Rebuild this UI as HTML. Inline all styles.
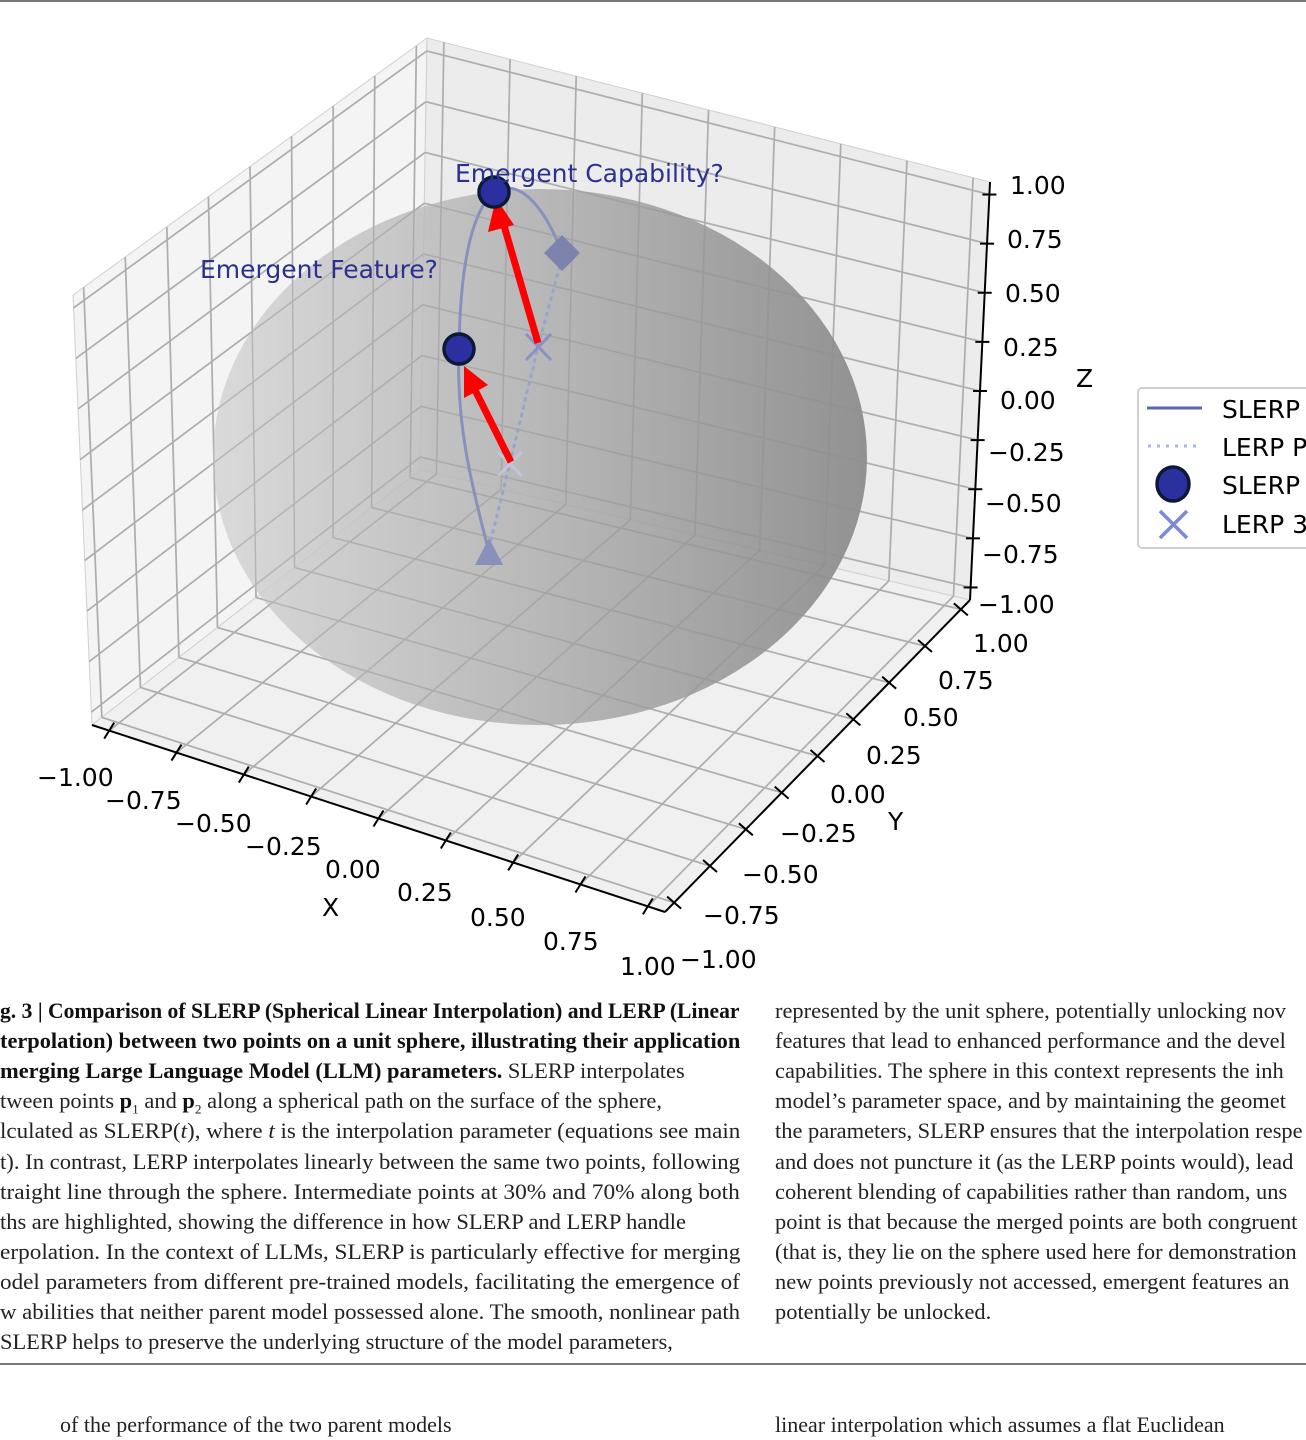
<!DOCTYPE html>
<html><head><meta charset="utf-8">
<style>
html,body{margin:0;padding:0;background:#fff;}
body{width:1306px;height:1422px;position:relative;overflow:hidden;}
svg{position:absolute;left:0;top:0;}
.t{font-family:"DejaVu Sans","Liberation Sans",sans-serif;font-size:25px;fill:#000;}
.cap{position:absolute;font-family:"Liberation Serif",serif;font-size:22px;color:#222;white-space:nowrap;transform-origin:0 0;line-height:30px;}
.cap b{color:#111;}
.hr{position:absolute;left:0;width:1306px;height:2px;background:#777;}
</style></head><body>
<div class="hr" style="top:0"></div>
<svg id="s" width="1306" height="990" viewBox="0 0 1306 990">
<defs>
<linearGradient id="sg" x1="0" y1="0" x2="1" y2="0">
<stop offset="0" stop-color="#d4d4d4"/><stop offset="0.5" stop-color="#acacac"/><stop offset="1" stop-color="#7e7e7e"/>
</linearGradient>
</defs>
<g id="panes"></g>
<g id="grid" stroke="#bdbdbd" stroke-width="1.8" fill="none"></g>
<ellipse cx="540" cy="457" rx="327" ry="268" fill="url(#sg)" opacity="0.82"/>
<g id="grid2" stroke="#9a9a9a" stroke-width="1.4" fill="none" opacity="0.45"></g>
<path d="M489,548 L510,463 L538,347 L562,258" stroke="#9aa3d0" stroke-width="3" stroke-dasharray="2,6" stroke-linecap="round" fill="none"/>
<path d="M489,552 C470,480 456,420 459,349 C460,280 468,215 494,192 C522,175 548,215 562,253" stroke="#8990bb" stroke-width="3" fill="none"/>
<polygon points="489,538 503,565 475,565" fill="#8990bb"/>
<polygon points="562,235 580,253 562,271 544,253" fill="#7c84ad"/>
<g stroke="#8990c8" stroke-width="3"><line x1="526" y1="334" x2="551" y2="360"/><line x1="551" y1="334" x2="526" y2="360"/></g>
<g stroke="#c0c4dc" stroke-width="3"><line x1="498" y1="452" x2="522" y2="476"/><line x1="522" y1="452" x2="498" y2="476"/></g>
<line x1="538" y1="343" x2="503" y2="222" stroke="#ff0000" stroke-width="7"/>
<polygon points="496,198 488,232 514,225" fill="#ff0000"/>
<line x1="511" y1="462" x2="474" y2="388" stroke="#ff0000" stroke-width="7"/>
<polygon points="464,366 464,398 488,385" fill="#ff0000"/>
<circle cx="494" cy="192" r="15" fill="#2b30a0" stroke="#0c1a38" stroke-width="3.5"/>
<circle cx="459" cy="349" r="15" fill="#2b30a0" stroke="#0c1a38" stroke-width="3.5"/>
<text x="455" y="182" class="t" style="fill:#2b318f">Emergent Capability?</text>
<text x="200" y="278" class="t" style="fill:#2b318f">Emergent Feature?</text>
<g id="axes" stroke="#000" stroke-width="2"></g>
<g id="labels"></g>
<rect x="1138" y="388" width="200" height="160" rx="4" fill="#fff" stroke="#d0d0d0" stroke-width="2"/>
<line x1="1147" y1="408" x2="1202" y2="408" stroke="#5a65b8" stroke-width="3"/>
<line x1="1148" y1="446" x2="1200" y2="446" stroke="#a6b6e6" stroke-width="3" stroke-dasharray="3,6"/>
<ellipse cx="1173" cy="484" rx="16" ry="17" fill="#2b30a0" stroke="#0c1a38" stroke-width="3.5"/>
<g stroke="#7b8bd0" stroke-width="3.5"><line x1="1160" y1="511" x2="1187" y2="538"/><line x1="1187" y1="511" x2="1160" y2="538"/></g>
<text x="1222" y="418" class="t">SLERP</text>
<text x="1222" y="456" class="t">LERP P</text>
<text x="1222" y="494" class="t">SLERP</text>
<text x="1222" y="533" class="t">LERP 3</text>
</svg>

<div class="hr" style="top:1363px"></div>
<div class="cap" style="left:60px;top:1410px">of the performance of the two parent models</div>
<div class="cap" style="left:775px;top:1410px">linear interpolation which assumes a flat Euclidean</div>

<script>
var NS="http://www.w3.org/2000/svg";
function el(p,n,a,t){var e=document.createElementNS(NS,n);for(var k in a)e.setAttribute(k,a[k]);if(t)e.textContent=t;p.appendChild(e);return e;}
function L(a,b,t){return [a[0]+(b[0]-a[0])*t,a[1]+(b[1]-a[1])*t];}
function Q(A,B,C,D,u,v){return L(L(A,B,u),L(D,C,u),v);}
var panes=[
 {A:[92,725],B:[420,470],C:[427,38],D:[73,295],f:"#f4f4f4"},
 {A:[420,470],B:[970,600],C:[990,182],D:[427,38],f:"#ececec"},
 {A:[92,725],B:[665,912],C:[970,600],D:[420,470],f:"#f0f0f0"}];
var pg=document.getElementById("panes"),g=document.getElementById("grid"),g2=document.getElementById("grid2");
panes.forEach(function(p){
 el(pg,"polygon",{points:[p.A,p.B,p.C,p.D].map(function(q){return q.join(",")}).join(" "),fill:p.f,stroke:"#d0d0d0","stroke-width":1});
 for(var i=0;i<=8;i++){var t=0.03+0.94*i/8;
  [[Q(p.A,p.B,p.C,p.D,t,0),Q(p.A,p.B,p.C,p.D,t,1)],[Q(p.A,p.B,p.C,p.D,0,t),Q(p.A,p.B,p.C,p.D,1,t)]].forEach(function(s){
   var a={x1:s[0][0],y1:s[0][1],x2:s[1][0],y2:s[1][1]};el(g,"line",a);el(g2,"line",a);});
 }
});
var ax=document.getElementById("axes"),lb=document.getElementById("labels");
function axis(P0,P1,tdx,tdy){el(ax,"line",{x1:P0[0],y1:P0[1],x2:P1[0],y2:P1[1]});
 for(var i=0;i<=8;i++){var t=0.03+0.94*i/8;var q=L(P0,P1,t);el(ax,"line",{x1:q[0]-tdx,y1:q[1]-tdy,x2:q[0]+tdx,y2:q[1]+tdy});}}
axis([92,725],[665,912],5,-8);
axis([665,912],[970,600],-7,-6);
axis([970,600],[990,182],-7,0);
function T(x,y,s){el(lb,"text",{x:x,y:y,"class":"t"},s);}
var xl=[["\u22121.00",37,786],["\u22120.75",105,809],["\u22120.50",175,832],["\u22120.25",245,855],["0.00",325,878],["0.25",397,901],["0.50",470,926],["0.75",543,950],["1.00",620,975]];
var yl=[["1.00",973,652],["0.75",938,689],["0.50",903,726],["0.25",866,764],["0.00",830,803],["\u22120.25",780,842],["\u22120.50",742,883],["\u22120.75",703,924],["\u22121.00",680,968]];
var zl=[["1.00",1010,194],["0.75",1007,248],["0.50",1005,302],["0.25",1003,356],["0.00",1000,409],["\u22120.25",988,461],["\u22120.50",985,512],["\u22120.75",982,563],["\u22121.00",978,613]];
xl.concat(yl,zl).forEach(function(a){T(a[1],a[2],a[0]);});
T(322,916,"X");T(888,830,"Y");T(1076,387,"Z");

var left=[
 [1,"<b>g. 3 | Comparison of SLERP (Spherical Linear Interpolation) and LERP (Linear</b>"],
 [1,"<b>terpolation) between two points on a unit sphere, illustrating their application</b>"],
 [0,"<b>merging Large Language Model (LLM) parameters.</b> SLERP interpolates"],
 [0,"tween points <b>p</b><sub style='font-size:13px'>1</sub> and <b>p</b><sub style='font-size:13px'>2</sub> along a spherical path on the surface of the sphere,"],
 [1,"lculated as SLERP(<i>t</i>), where <i>t</i> is the interpolation parameter (equations see main"],
 [1,"t). In contrast, LERP interpolates linearly between the same two points, following"],
 [1,"traight line through the sphere. Intermediate points at 30% and 70% along both"],
 [0,"ths are highlighted, showing the difference in how SLERP and LERP handle"],
 [1,"erpolation. In the context of LLMs, SLERP is particularly effective for merging"],
 [1,"odel parameters from different pre-trained models, facilitating the emergence of"],
 [1,"w abilities that neither parent model possessed alone. The smooth, nonlinear path"],
 [0,"SLERP helps to preserve the underlying structure of the model parameters,"]];
var right=[
 "represented by the unit sphere, potentially unlocking nov",
 "features that lead to enhanced performance and the devel",
 "capabilities. The sphere in this context represents the inh",
 "model\u2019s parameter space, and by maintaining the geomet",
 "the parameters, SLERP ensures that the interpolation respe",
 "and does not puncture it (as the LERP points would), lead",
 "coherent blending of capabilities rather than random, uns",
 "point is that because the merged points are both congruent",
 "(that is, they lie on the sphere used here for demonstration",
 "new points previously not accessed, emergent features an",
 "potentially be unlocked."];
var R=1.02;
left.forEach(function(l,i){var d=document.createElement("div");d.className="cap";d.style.left="0px";d.style.top=(996+i*30.1)+"px";d.innerHTML=l[1];document.body.appendChild(d);
 var w=d.scrollWidth;var s=l[0]?740/w:R;d.style.transform="scaleX("+s+")";});
right.forEach(function(l,i){var d=document.createElement("div");d.className="cap";d.style.left="775px";d.style.top=(996+i*30.1)+"px";d.textContent=l;document.body.appendChild(d);
 d.style.transform="scaleX("+R+")";});
</script>
</body></html>
